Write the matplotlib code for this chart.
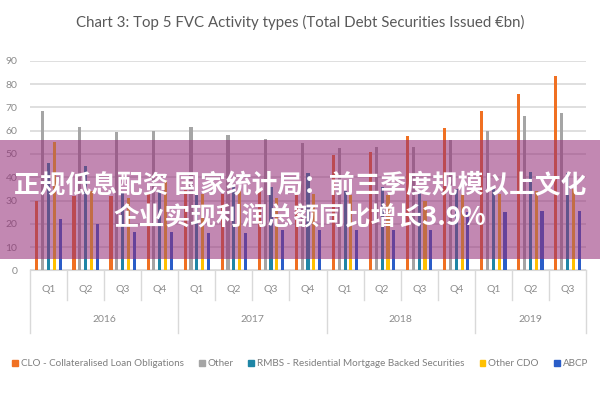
import matplotlib
matplotlib.use("Agg")
import matplotlib.pyplot as plt
import numpy as np
from matplotlib.patches import Rectangle
from matplotlib.lines import Line2D
from matplotlib.transforms import blended_transform_factory

quarters = ["Q1", "Q2", "Q3", "Q4", "Q1", "Q2", "Q3", "Q4", "Q1", "Q2", "Q3", "Q4", "Q1", "Q2", "Q3"]
years = ["2016", "2017", "2018", "2019"]
year_counts = [4, 4, 4, 3]

series_names = ["CLO - Collateralised Loan Obligations", "Other",
                "RMBS - Residential Mortgage Backed Securities", "Other CDO", "ABCP"]
clo = [30, 32, 32, 33, 34.5, 33, 34, 33, 49.5, 51, 57.5, 61.3, 68.4, 75.7, 83.4]
other = [68.5, 61.5, 59.3, 59.8, 61.7, 58, 56.3, 54.8, 52.6, 53, 53, 56, 60, 66.3, 67.4]
rmbs = [46, 45, 34, 34.5, 36.5, 36.5, 36, 42, 34, 36, 34, 35, 35, 42.4, 41.8]
other_cdo = [55, 34, 31, 39, 33, 34, 31, 33, 32.4, 32.4, 30, 33, 33, 34, 35]
abcp = [22, 20, 16.5, 16.5, 16, 16, 17.3, 17.3, 17.3, 17.3, 17.3, 25, 25, 25.6, 25.6]
colors = ["#F07022", "#A5A5A5", "#1F86A6", "#FFC000", "#2A5DC8"]

title = "Chart 3: Top 5 FVC Activity types (Total Debt Securities Issued €bn)"
banner_line1 = "正规低息配资 国家统计局：前三季度规模以上文化"
banner_line2 = "企业实现利润总额同比增长3.9%"

plt.rcParams['font.family'] = ['Lato', 'DejaVu Sans']

fig = plt.figure(figsize=(6, 4), dpi=100)
ax = fig.add_axes([0.05, 0.324, 0.9267, 0.524])

x = np.arange(len(quarters))
data = [clo, other, rmbs, other_cdo, abcp]
step = 0.157
bw = 0.085
for i, (vals, c) in enumerate(zip(data, colors)):
    ax.bar(x + (i - 2) * step, vals, width=bw, color=c, zorder=3, label=series_names[i])

ax.set_xlim(-0.5, len(quarters) - 0.5)
ax.set_ylim(0, 90)
ax.set_yticks(np.arange(0, 91, 10))
ax.grid(axis='y', color='#D9D9D9', linewidth=1.2, zorder=0)
ax.set_axisbelow(True)
for s in ['left', 'right', 'top']:
    ax.spines[s].set_visible(False)
ax.spines['bottom'].set_color('#D9D9D9')
ax.tick_params(axis='y', length=0, pad=9, labelsize=7.5, labelcolor='#8C8C8C')
ax.set_xticks([])

tr = blended_transform_factory(ax.transData, ax.transAxes)
for i, q in enumerate(quarters):
    ax.text(i, -0.089, q, transform=tr, ha='center', va='center', fontsize=7.5, color='#8C8C8C')
bounds = np.arange(len(quarters) + 1) - 0.5
year_bounds = np.concatenate([[0], np.cumsum(year_counts)]) - 0.5
for b in bounds:
    is_year = np.any(np.isclose(year_bounds, b))
    ax.add_line(Line2D([b, b], [0, -0.298 if is_year else -0.141], transform=tr,
                       color='#D9D9D9', linewidth=1, clip_on=False))
start = 0
for y, n in zip(years, year_counts):
    ax.text(start + (n - 1) / 2, -0.236, y, transform=tr, ha='center', va='center',
            fontsize=7.5, color='#8C8C8C')
    start += n

fig.text(0.5, 1 - 22 / 400, title, ha='center', va='center', fontsize=10.8, color='#595959')

handles = [Rectangle((0, 0), 1, 1, color=c) for c in colors]
fig.legend(handles, series_names, loc='center', bbox_to_anchor=(0.5, 1 - 364 / 400), ncol=5,
           frameon=False, fontsize=7.1, handlelength=0.6, handleheight=0.6, handletextpad=0.3,
           columnspacing=1.5, labelcolor='#7F7F7F')

banner = Rectangle((0, 1 - 259 / 400), 1, 119 / 400, transform=fig.transFigure,
                   facecolor=(0.58, 0.18, 0.47), alpha=0.57, edgecolor='none', zorder=10)
fig.add_artist(banner)
cjk = ['Noto Sans CJK SC', 'DejaVu Sans']
fig.text(0.5, 1 - 186 / 400, banner_line1, ha='center', va='center', fontsize=18.5,
         color='white', fontweight='bold', family=cjk, zorder=11)
fig.text(0.5, 1 - 217 / 400, banner_line2, ha='center', va='center', fontsize=18.5,
         color='white', fontweight='bold', family=cjk, zorder=11)

fig.savefig("out.png", dpi=100)
